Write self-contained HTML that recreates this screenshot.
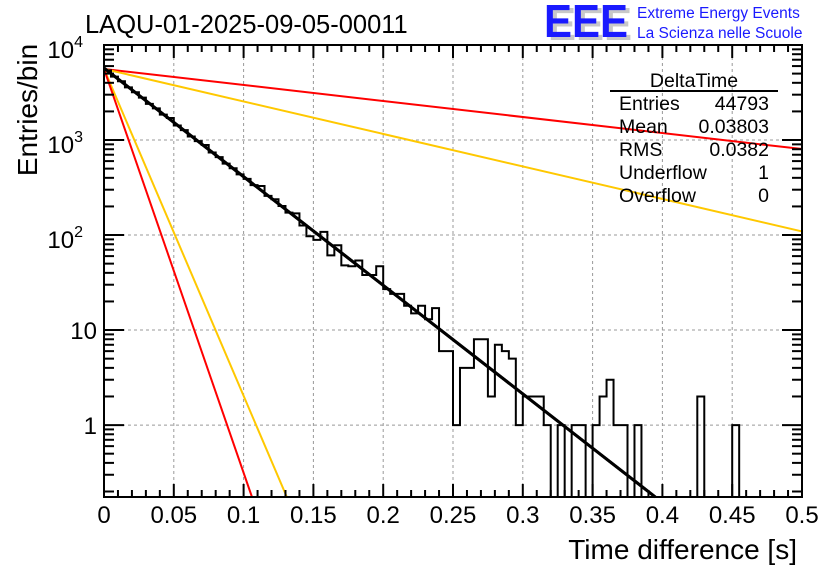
<!DOCTYPE html>
<html><head><meta charset="utf-8"><style>
html,body{margin:0;padding:0;background:#fff;}
svg{display:block;font-family:"Liberation Sans",Arial,sans-serif;}
</style></head><body>
<svg id="chart" width="836" height="572" viewBox="0 0 836 572">
<rect width="836" height="572" fill="#fff"/>
<g>
 <text x="548" y="40" font-size="46" font-weight="bold" fill="#c8c8c8" textLength="84" lengthAdjust="spacingAndGlyphs">EEE</text>
 <text x="544" y="37" font-size="46" font-weight="bold" fill="#1a1aff" textLength="84" lengthAdjust="spacingAndGlyphs">EEE</text>
 <text x="637" y="18" font-size="15.5" fill="#1a1aff">Extreme Energy Events</text>
 <text x="637" y="38" font-size="15.5" fill="#1a1aff">La Scienza nelle Scuole</text>
</g>
<text x="85" y="33" font-size="25.5" fill="#000">LAQU-01-2025-09-05-00011</text>
<text transform="translate(37,110) rotate(-90)" font-size="28" text-anchor="middle">Entries/bin</text>
<text x="797" y="559" font-size="28" text-anchor="end">Time difference [s]</text>
<g id="grid"></g>
<g id="fits"></g>
<g id="hist"></g>
<g id="axes"></g>
<g font-size="19.5">
 <text x="694" y="87" text-anchor="middle">DeltaTime</text>
 <line x1="610" y1="91" x2="778" y2="91" stroke="#000" stroke-width="2"/>
 <text x="619" y="110">Entries</text><text x="769" y="110" text-anchor="end">44793</text>
 <text x="619" y="133">Mean</text><text x="769" y="133" text-anchor="end">0.03803</text>
 <text x="619" y="156">RMS</text><text x="769" y="156" text-anchor="end">0.0382</text>
 <text x="619" y="179">Underflow</text><text x="769" y="179" text-anchor="end">1</text>
 <text x="619" y="202">Overflow</text><text x="769" y="202" text-anchor="end">0</text>
</g>
</svg>
<script>
const binWidth = 0.005;
const counts = [5400,4650,4150,3580,3180,2790,2400,2150,1850,1706,1420,1270,1090,975,885,740,660,565,505,435,390,335,328,258,238,202,172,169,126,97,89,108,61,78,48,47,54,38,38,47,27,24,24,18,15,18,13,17,6,6,1,4,4,8,8,2,7,6,5,1,2,2,2,1,0,1,0,1,1,0,1,2,3,1,1,0,1,0,0,0,0,0,0,0,0,2,0,0,0,0,1,0,0,0,0,0,0,0,0,0];
const fitNames = ['fit-red-slow','fit-yellow-slow','fit-black','fit-yellow-steep','fit-red-steep'];
const fitLog10Amp = [3.748,3.748,3.757,3.748,3.748];
const fitLog10Slope = [-1.686,-3.42,-11.43,-34.4,-42.5];
const fitColors = ['#ff0000','#ffc800','#000000','#ffc800','#ff0000'];
const fitWidths = [2,2,3,2,2];
const xTicks = [0,0.05,0.1,0.15,0.2,0.25,0.3,0.35,0.4,0.45,0.5];
const xTickLabels = ['0','0.05','0.1','0.15','0.2','0.25','0.3','0.35','0.4','0.45','0.5'];
const yDecades = [0,1,2,3,4];

const X0=104,X1=802,Y0=497,Y1=45;
const xMin=0,xMax=0.5,lMin=Math.log10(0.175),lMax=4;
const sx=v=>X0+(v-xMin)/(xMax-xMin)*(X1-X0);
const syl=l=>Y0-(l-lMin)/(lMax-lMin)*(Y0-Y1);
const sy=v=>v<=0?Y0:Math.max(Y1,Math.min(Y0,syl(Math.log10(v))));
const NS='http://www.w3.org/2000/svg';
function mk(tag,attrs,parent){const e=document.createElementNS(NS,tag);for(const k in attrs)e.setAttribute(k,attrs[k]);parent.appendChild(e);return e;}

const grid=document.getElementById('grid');
xTicks.forEach((t,i)=>{ if(i>0&&i<xTicks.length-1){
 const l=mk('line',{x1:sx(t),x2:sx(t),y1:Y1,y2:Y0,stroke:'#999','stroke-dasharray':'3,3','stroke-width':1},grid);
 
 }});
yDecades.forEach(d=>{ const y=syl(d); if(y>Y1+1&&y<Y0){
 const l=mk('line',{x1:X0,x2:X1,y1:y,y2:y,stroke:'#999','stroke-dasharray':'3,3','stroke-width':1},grid);
 
 }});

const fits=document.getElementById('fits');
fitNames.forEach((n,i)=>{
 const xEnd=Math.min(xMax,(lMin-fitLog10Amp[i])/fitLog10Slope[i]);
 const p=mk('line',{x1:sx(0),y1:syl(fitLog10Amp[i]),x2:sx(xEnd),y2:syl(fitLog10Amp[i]+fitLog10Slope[i]*xEnd),stroke:fitColors[i],'stroke-width':fitWidths[i]},fits);
 
 
});

const hist=document.getElementById('hist');
let d='M'+sx(0)+','+Y0;
counts.forEach((c,i)=>{const y=sy(c);d+=' L'+sx(i*binWidth)+','+y+' L'+sx((i+1)*binWidth)+','+y;});
d+=' L'+sx(counts.length*binWidth)+','+Y0;
const hp=mk('path',{d:d,fill:'none',stroke:'#000','stroke-width':2},hist);


const bf=fits.children[2].cloneNode();


hist.appendChild(bf);

const axes=document.getElementById('axes');
const fr=mk('rect',{x:X0,y:Y1,width:X1-X0,height:Y0-Y1,fill:'none',stroke:'#000','stroke-width':2},axes);


for(let k=0;k<=50;k++){const v=k*0.01;const x=sx(v);const len=(k%5===0)?13:7;
 mk('line',{x1:x,x2:x,y1:Y0,y2:Y0-len,stroke:'#000','stroke-width':2},axes);
 mk('line',{x1:x,x2:x,y1:Y1,y2:Y1+len,stroke:'#000','stroke-width':2},axes);}
xTicks.forEach((t,i)=>{const tx=mk('text',{x:sx(t),y:523,'font-size':24,'text-anchor':'middle'},axes);tx.textContent=xTickLabels[i];
 
 });
for(let d0=-1;d0<4;d0++){for(let m=1;m<10;m++){const l=d0+Math.log10(m);if(l<lMin||l>lMax)continue;const y=syl(l);const len=m===1?20:10;
 mk('line',{x1:X0,x2:X0+len,y1:y,y2:y,stroke:'#000','stroke-width':2},axes);
 mk('line',{x1:X1,x2:X1-len,y1:y,y2:y,stroke:'#000','stroke-width':2},axes);}}
mk('line',{x1:X0,x2:X0+20,y1:Y1,y2:Y1,stroke:'#000','stroke-width':2},axes);
yDecades.forEach(dd=>{const y=syl(dd);const t=mk('text',{x:97,y:y+9,'font-size':24,'text-anchor':'end'},axes);
 
 
 if(dd===0)t.textContent='1';else if(dd===1)t.textContent='10';
 else{t.setAttribute('x',83);t.setAttribute('y',y+13);t.textContent='10';const s=mk('tspan',{dy:-11,'font-size':16},t);s.textContent=String(dd);}});
</script>
</body></html>
